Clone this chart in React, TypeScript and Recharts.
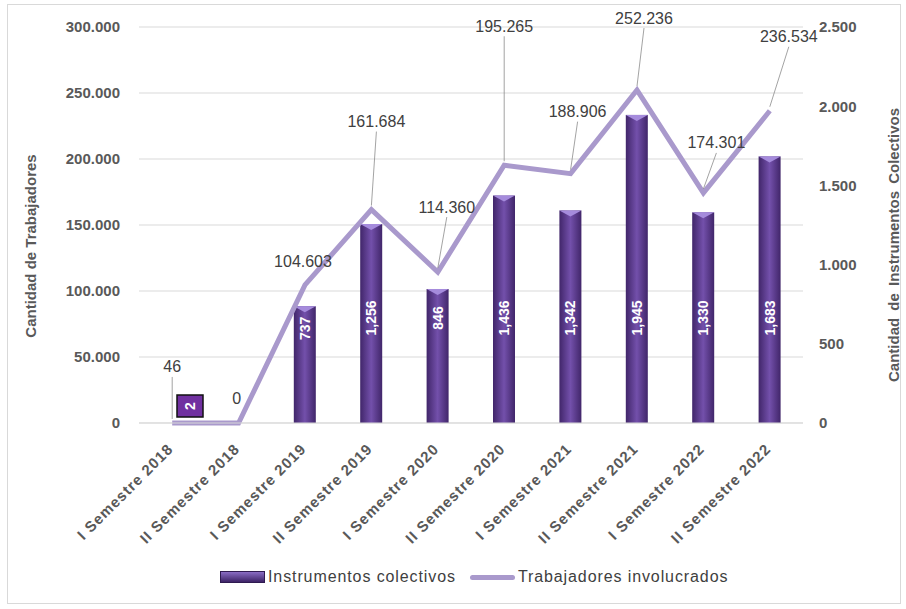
import React from "react";
import { Bar, ComposedChart, CartesianGrid, LabelList, Line, XAxis, YAxis } from "recharts";

const categories = [
  "I Semestre 2018",
  "II Semestre 2018",
  "I Semestre 2019",
  "II Semestre 2019",
  "I Semestre 2020",
  "II Semestre 2020",
  "I Semestre 2021",
  "II Semestre 2021",
  "I Semestre 2022",
  "II Semestre 2022",
];
const instrumentos = [2, 0, 737, 1256, 846, 1436, 1342, 1945, 1330, 1683];
const trabajadores = [46, 0, 104603, 161684, 114360, 195265, 188906, 252236, 174301, 236534];
const leftTicks = [0, 50000, 100000, 150000, 200000, 250000, 300000];
const rightTicks = [0, 500, 1000, 1500, 2000, 2500];

// where each worker label sits relative to its point (Excel moved them by hand)
const lineLabelOffsets = [
  { dx: 0, dy: -56, leader: true },
  { dx: -2, dy: -25, leader: false },
  { dx: -2, dy: -23, leader: false },
  { dx: 5, dy: -88, leader: true },
  { dx: 9, dy: -65, leader: true },
  { dx: 0, dy: -139, leader: true },
  { dx: 7, dy: -62, leader: true },
  { dx: 7, dy: -72, leader: true },
  { dx: 13, dy: -50, leader: true },
  { dx: 19, dy: -74, leader: true },
];

const data = categories.map((name, i) => ({
  name,
  instrumentos: instrumentos[i],
  trabajadores: trabajadores[i],
}));

const FONT = '"Liberation Sans", Arial, sans-serif';
const GRAY = "#595959";
const LINE_COLOR = "#a999cc";

const withDots = (n: number) => n.toString().replace(/\B(?=(\d{3})+(?!\d))/g, ".");
const withCommas = (n: number) => n.toString().replace(/\B(?=(\d{3})+(?!\d))/g, ",");

const BarShape = (props: any) => {
  const { x, y, width, height } = props;
  if (!height || height < 0.5) return null;
  const cap = Math.min(6, height);
  return (
    <g>
      <rect x={x} y={y} width={width} height={height} fill="url(#barGrad)" />
      <polygon
        points={`${x},${y} ${x + width},${y} ${x + width / 2},${y + cap}`}
        fill="#a58bdc"
      />
    </g>
  );
};

const BarLabel = (props: any) => {
  const { x, y, width, height, value } = props;
  if (!value) return null;
  const cx = x + width / 2;
  if (value < 10) {
    const bottom = y + height;
    const bx = cx + 5;
    const by = bottom - 28;
    return (
      <g>
        <rect x={bx} y={by} width={26} height={22} fill="#7030a0" stroke="#111" strokeWidth={1.5} />
        <text
          x={bx + 13}
          y={by + 11}
          transform={`rotate(-90, ${bx + 13}, ${by + 11})`}
          textAnchor="middle"
          dominantBaseline="central"
          fill="#fff"
          fontWeight="bold"
          fontSize={14}
          fontFamily={FONT}
        >
          {value}
        </text>
      </g>
    );
  }
  const cy = Math.max(318, y + 22);
  return (
    <text
      x={cx}
      y={cy}
      transform={`rotate(-90, ${cx}, ${cy})`}
      textAnchor="middle"
      dominantBaseline="central"
      fill="#fff"
      fontWeight="bold"
      fontSize={14}
      fontFamily={FONT}
    >
      {withCommas(value)}
    </text>
  );
};

const LineLabel = (props: any) => {
  const { x, y, value, index } = props;
  const off = lineLabelOffsets[index] || { dx: 0, dy: -20, leader: false };
  const lx = x + off.dx;
  const ly = y + off.dy;
  return (
    <g>
      {off.leader && (
        <line x1={x} y1={y - 4} x2={lx} y2={ly + 10} stroke="#8c8c8c" strokeWidth={0.8} />
      )}
      <text
        x={lx}
        y={ly}
        textAnchor="middle"
        dominantBaseline="central"
        fill="#404040"
        fontSize={16}
        fontFamily={FONT}
      >
        {withDots(value)}
      </text>
    </g>
  );
};

const XTick = (props: any) => {
  const { x, y, payload } = props;
  const ax = x + 2;
  const ay = y + 25;
  return (
    <text
      x={ax}
      y={ay}
      transform={`rotate(-45, ${ax}, ${ay})`}
      textAnchor="end"
      fill={GRAY}
      fontSize={15}
      fontWeight="bold"
      letterSpacing={1}
      fontFamily={FONT}
    >
      {payload.value}
    </text>
  );
};

const titleStyle: React.CSSProperties = {
  position: "absolute",
  width: "max-content",
  transform: "translate(-50%, -50%) rotate(-90deg)",
  whiteSpace: "nowrap",
  color: GRAY,
  fontSize: 15,
  fontWeight: "bold",
  lineHeight: "18px",
};

export default function App() {
  return (
    <div
      style={{
        position: "fixed",
        left: 0,
        top: 0,
        width: 906,
        height: 609,
        background: "#fff",
        fontFamily: FONT,
        overflow: "hidden",
      }}
    >
      <div
        style={{
          position: "absolute",
          left: 7,
          top: 4,
          width: 892,
          height: 598,
          border: "1px solid #d9d9d9",
        }}
      />
      <div style={{ position: "absolute", left: 0, top: 0 }}>
        <ComposedChart width={906} height={609} data={data} margin={{ top: 27, right: 0, bottom: 0, left: 0 }}>
          <defs>
            <linearGradient id="barGrad" x1="0" y1="0" x2="1" y2="0">
              <stop offset="0%" stopColor="#41266a" />
              <stop offset="50%" stopColor="#7350ab" />
              <stop offset="100%" stopColor="#41266a" />
            </linearGradient>
          </defs>
          <CartesianGrid yAxisId="left" vertical={false} stroke="#d9d9d9" />
          <XAxis
            dataKey="name"
            height={186}
            tick={<XTick />}
            tickLine={false}
            tickSize={0}
            axisLine={{ stroke: "#d9d9d9" }}
            interval={0}
          />
          <YAxis
            yAxisId="left"
            width={139}
            domain={[0, 300000]}
            ticks={leftTicks}
            tickFormatter={withDots}
            axisLine={false}
            tickLine={false}
            tickSize={0}
            tickMargin={19}
            tick={{ fill: GRAY, fontSize: 15, fontWeight: "bold", fontFamily: FONT }}
          />
          <YAxis
            yAxisId="right"
            orientation="right"
            width={103}
            domain={[0, 2500]}
            ticks={rightTicks}
            tickFormatter={withDots}
            axisLine={false}
            tickLine={false}
            tickSize={0}
            tickMargin={16}
            tick={{ fill: GRAY, fontSize: 15, fontWeight: "bold", fontFamily: FONT }}
          />
          <Bar yAxisId="right" dataKey="instrumentos" barSize={22} shape={<BarShape />} isAnimationActive={false}>
            <LabelList dataKey="instrumentos" content={<BarLabel />} />
          </Bar>
          <Line
            yAxisId="left"
            type="linear"
            dataKey="trabajadores"
            stroke={LINE_COLOR}
            strokeWidth={5}
            dot={false}
            activeDot={false}
            isAnimationActive={false}
          >
            <LabelList dataKey="trabajadores" content={<LineLabel />} />
          </Line>
        </ComposedChart>
      </div>
      <div style={{ ...titleStyle, left: 31, top: 246 }}>Cantidad de Trabajadores</div>
      <div style={{ ...titleStyle, left: 894, top: 245, wordSpacing: 3 }}>
        Cantidad de Instrumentos Colectivos
      </div>
      <div
        style={{
          position: "absolute",
          left: 220,
          top: 568,
          display: "flex",
          alignItems: "center",
          color: "#404040",
          fontSize: 16,
          letterSpacing: 0.9,
          whiteSpace: "nowrap",
        }}
      >
        <span
          style={{
            display: "inline-block",
            width: 43,
            height: 10,
            background: "linear-gradient(#8a6cc4, #3d2366)",
            border: "1px solid #2f1a50",
            marginRight: 3,
          }}
        />
        <span>Instrumentos colectivos</span>
        <span
          style={{
            display: "inline-block",
            width: 45,
            height: 5,
            borderRadius: 3,
            background: LINE_COLOR,
            marginLeft: 14,
            marginRight: 3,
          }}
        />
        <span>Trabajadores involucrados</span>
      </div>
    </div>
  );
}
